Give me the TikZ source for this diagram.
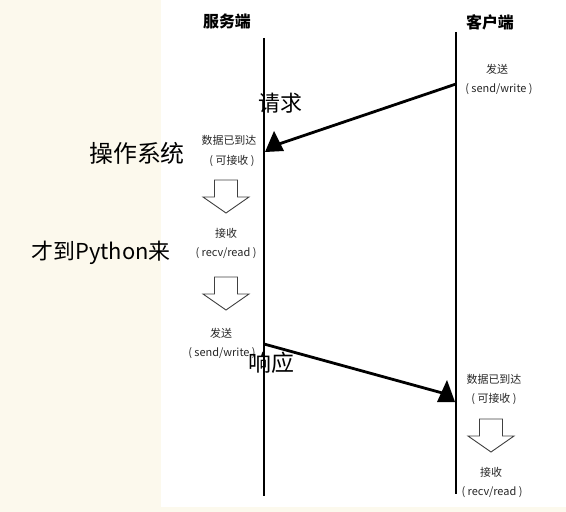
\documentclass[tikz,border=0pt]{standalone}
\usepackage{fontspec}
\setmainfont{Noto Sans CJK SC}
\usepackage{xcolor}
\definecolor{cream}{RGB}{252,249,237}

\tikzset{
  lifeline/.style={line width=2.5bp},
  msg/.style={line width=2.8bp},
  msghead/.style={fill=black},
  hollow/.style={draw=black!75, line width=0.9bp, fill=white, line join=miter},
  title/.style={font=\fontsize{16}{18}\selectfont\bfseries, inner sep=0pt},
  lbl/.style={font=\fontsize{11}{13}\selectfont, text=black!85, inner sep=0pt},
  note/.style={font=\fontsize{22}{24}\selectfont, inner sep=0pt},
}

\begin{document}
\begin{tikzpicture}[x=1bp, y=-1bp]
\useasboundingbox (0,0) rectangle (566,512);
% background
\fill[cream] (0,0) rectangle (160.5,512);
\fill[cream] (0,507) rectangle (566,512);

% lifelines
\node[title] (srv) at (227,21) {服务端};
\node[title] (clt) at (490,22) {客户端};
\coordinate (srvtop) at (264,38);
\coordinate (srvbot) at (264,496);
\coordinate (clttop) at (456,32);
\coordinate (cltbot) at (456,494);
\draw[lifeline] (srvtop) -- (srvbot);
\draw[lifeline] (clttop) -- (cltbot);

% client sends request
\node[lbl] (cltsend) at (497,69) {发送};
\node[lbl] (cltsendfn) at (499,89) {( send/write )};
\coordinate (reqstart) at (456,84);
\coordinate (reqend) at (273,146);
\draw[msg] (reqstart) -- (reqend);
\fill[msghead] (265,152) -- (274,131) -- (284,151) -- cycle;
\node[note] (req) at (280,103) {请求};

% server side
\node[lbl] (srvarrive) at (229,140) {数据已到达};
\node[lbl] (srvok) at (232,161) {( 可接收 )};
\node[lbl] (srvrecv) at (226,233) {接收};
\node[lbl] (srvrecvfn) at (226,253) {( recv/read )};
\node[lbl] (srvsend) at (221,333) {发送};
\node[lbl] (srvsendfn) at (222,353) {( send/write )};
\node[note, font=\fontsize{24}{26}\selectfont] (os) at (137,153) {操作系统};
\node[note] (py) at (101,253) {才到Python来};

% server sends response
\coordinate (respstart) at (264,344);
\coordinate (respend) at (446,394);
\draw[msg] (respstart) -- (respend);
\fill[msghead] (437,402) -- (447,380) -- (455,402) -- cycle;
\node[note, font=\fontsize{23}{25}\selectfont] (resp) at (271,363) {响应};

% client side
\node[lbl] (cltarrive) at (494,379) {数据已到达};
\node[lbl] (cltok) at (494,399) {( 可接收 )};
\node[lbl] (cltrecv) at (491,472) {接收};
\node[lbl] (cltrecvfn) at (492,492) {( recv/read )};

% hollow down arrows
\foreach \x/\y in {226/180, 226/277, 491/419}
  \draw[hollow] ({\x-11.5},\y) -- ({\x+11.5},\y) -- ({\x+11.5},{\y+17})
    -- ({\x+23},{\y+17}) -- (\x,{\y+33}) -- ({\x-23},{\y+17})
    -- ({\x-11.5},{\y+17}) -- cycle;
\end{tikzpicture}
\end{document}
